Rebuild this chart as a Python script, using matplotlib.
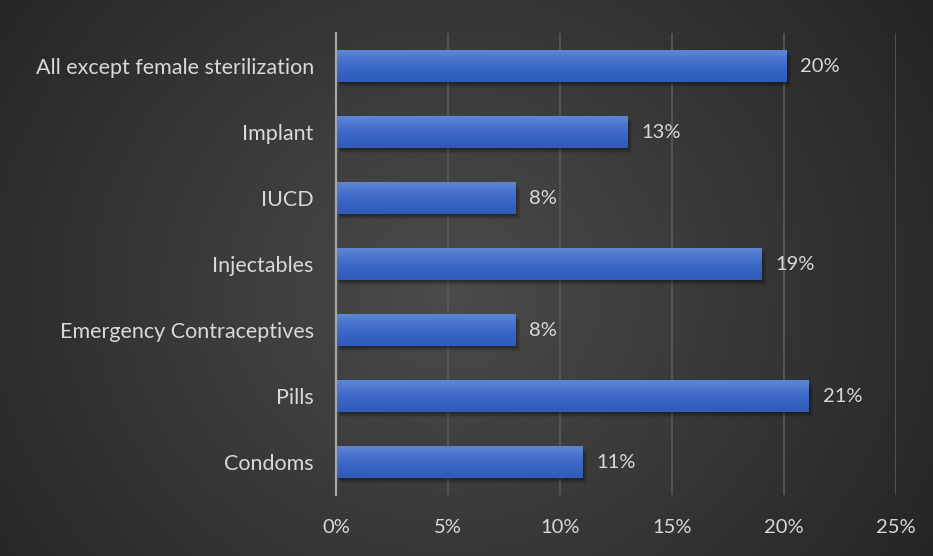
import numpy as np
import matplotlib
matplotlib.use("Agg")
import matplotlib.pyplot as plt
from matplotlib.colors import LinearSegmentedColormap

categories = ["Condoms", "Pills", "Emergency Contraceptives", "Injectables",
              "IUCD", "Implant", "All except female sterilization"]
values = [11.0, 21.1, 8.0, 19.0, 8.0, 13.0, 20.1]
labels = ["11%", "21%", "8%", "19%", "8%", "13%", "20%"]
xticks = [0, 5, 10, 15, 20, 25]
xticklabels = ["0%", "5%", "10%", "15%", "20%", "25%"]

W, H = 933, 556
fig = plt.figure(figsize=(W / 100, H / 100), dpi=100)

# radial gradient background
bg = fig.add_axes([0, 0, 1, 1], zorder=-10)
yy, xx = np.mgrid[0:H, 0:W]
cx, cy = W * 0.48, H * 0.52
r = np.sqrt(((xx - cx) / (W * 0.62)) ** 2 + ((yy - cy) / (H * 0.95)) ** 2)
r = np.clip(r, 0, 1)
c0 = np.array([0x4b, 0x4b, 0x4b]) / 255
c1 = np.array([0x24, 0x24, 0x24]) / 255
img = c0[None, None, :] * (1 - r[..., None]) + c1[None, None, :] * r[..., None]
bg.imshow(img, aspect="auto", extent=[0, 1, 0, 1], origin="upper")
bg.axis("off")

font = ["Lato", "DejaVu Sans"]
txtc = "#d9d9d9"

ax = fig.add_axes([336 / W, 1 - 495 / H, (896 - 336) / W, (495 - 33) / H])
ax.patch.set_alpha(0)
y = np.arange(len(categories))
bh = 0.47
# soft shadows
for k in range(1, 6):
    d = 0.018 * k
    ax.barh(y - d, values, height=bh, left=0.04 * k, color="black", alpha=0.09,
            zorder=2, linewidth=0)
bars = ax.barh(y, values, height=bh, color="#3a66c4", zorder=3, linewidth=0)
cmap = LinearSegmentedColormap.from_list("g", ["#5d86d4", "#3d69c7", "#2e5cb7"])
grad = np.linspace(0, 1, 64).reshape(-1, 1)
for b in bars:
    x0, y0 = b.get_x(), b.get_y()
    im = ax.imshow(grad, cmap=cmap, aspect="auto", origin="upper",
                   extent=[x0, x0 + b.get_width(), y0, y0 + b.get_height()], zorder=4)
    im.set_clip_path(b)
for yi, v, lab in zip(y, values, labels):
    ax.text(v + 0.62, yi, lab, va="center", ha="left", color=txtc, fontsize=14.5, family=font)

ax.set_xlim(0, 25)
ax.set_ylim(-0.5, len(categories) - 0.5)
ax.set_xticks(xticks)
ax.set_xticklabels(xticklabels, family=font, fontsize=14.5, color=txtc)
ax.set_yticks(y)
ax.set_yticklabels(categories, family=font, fontsize=15.5, color=txtc)
ax.tick_params(axis="x", length=0, pad=17)
ax.tick_params(axis="y", length=0, pad=16)
ax.grid(axis="x", color="#5a5a5a", linewidth=1.2, zorder=0)
ax.set_axisbelow(True)
for s in ["top", "right", "bottom"]:
    ax.spines[s].set_visible(False)
ax.spines["left"].set_color("#a6a6a6")
ax.spines["left"].set_linewidth(1.6)
ax.spines["left"].set_zorder(5)

fig.savefig("out.png", dpi=100)
